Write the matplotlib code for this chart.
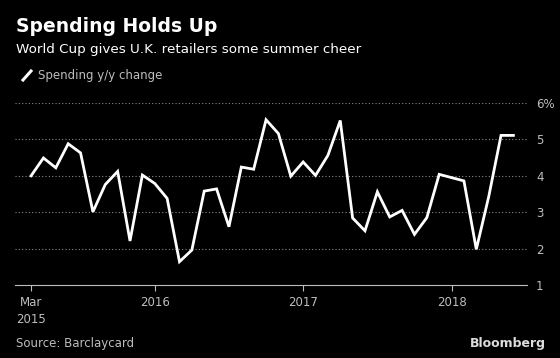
import matplotlib
matplotlib.use("Agg")
from matplotlib import pyplot as plt
from matplotlib.lines import Line2D

# month index 0 = Mar 2015, last = Jun 2018
months = list(range(40))
spending = [4.0, 4.49, 4.22, 4.88, 4.63, 3.01, 3.76, 4.12, 2.21, 4.02,
            3.79, 3.38, 1.64, 1.96, 3.58, 3.64, 2.60, 4.24, 4.18, 5.54,
            5.16, 3.99, 4.38, 4.01, 4.56, 5.52, 2.84, 2.49, 3.56, 2.87,
            3.05, 2.39, 2.85, 4.04, 3.95, 3.86, 1.98, 3.42, 5.11, 5.11]
tick_pos = [0, 10, 22, 34]
tick_labels = ["Mar\n2015", "2016", "2017", "2018"]
y_ticks = [1, 2, 3, 4, 5, 6]
y_labels = ["1", "2", "3", "4", "5", "6%"]

bg = "black"
grey = "#bdbdbd"
plt.rcParams['font.family'] = ['DejaVu Sans']

fig = plt.figure(figsize=(5.6, 3.58), dpi=100, facecolor=bg)
ax = fig.add_axes([15/560, 1 - 285/358, 512/560, 182/358])
ax.set_facecolor(bg)

ax.plot(months, spending, color="white", linewidth=2.0, solid_joinstyle="miter")

ax.set_ylim(1, 6)
ax.set_xlim(-1.3, 40.1)
for y in y_ticks[1:]:
    ax.axhline(y, color="#8a8a8a", linewidth=0.8, linestyle=(0, (1, 2)), zorder=0)

for s in ["top", "left", "right"]:
    ax.spines[s].set_visible(False)
ax.spines["bottom"].set_color(grey)
ax.spines["bottom"].set_linewidth(0.8)

ax.yaxis.tick_right()
ax.set_yticks(y_ticks)
ax.set_yticklabels(y_labels)
ax.tick_params(axis="y", length=0, pad=6.5, labelcolor=grey, labelsize=8.5)
ax.set_xticks(tick_pos)
ax.set_xticklabels(tick_labels, ha="center", linespacing=1.4)
ax.tick_params(axis="x", length=4, width=0.8, color=grey, labelcolor=grey,
               labelsize=8.5, pad=4)

fig.text(16/560, 1 - 27/358, "Spending Holds Up", color="white", fontsize=13.5,
         fontweight="bold", va="center", ha="left")
fig.text(16/560, 1 - 50/358, "World Cup gives U.K. retailers some summer cheer",
         color="white", fontsize=9.7, va="center", ha="left")
fig.add_artist(Line2D([23/560, 31/560], [1 - 80/358, 1 - 71/358],
                      color="white", linewidth=2.2, transform=fig.transFigure))
fig.text(38/560, 1 - 75/358, "Spending y/y change", color=grey, fontsize=8.5,
         va="center", ha="left")
fig.text(16/560, 1 - 343/358, "Source: Barclaycard", color=grey, fontsize=8.5,
         va="center", ha="left")
fig.text(546/560, 1 - 343/358, "Bloomberg", color="#dddddd", fontsize=9,
         fontweight="bold", va="center", ha="right")

fig.savefig("out.png", dpi=100, facecolor=bg)
